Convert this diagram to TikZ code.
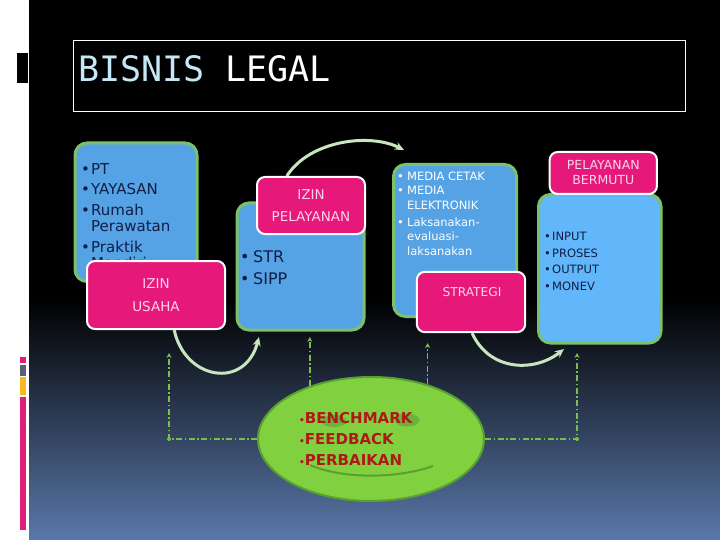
\documentclass[tikz,border=0pt]{standalone}
\usepackage{fontspec}
\setmainfont{DejaVu Sans}
\newfontfamily\monof{DejaVu Sans Mono}
\usetikzlibrary{shapes.geometric,arrows.meta,calc}
\definecolor{boxblue}{RGB}{85,163,228}
\definecolor{boxblueL}{RGB}{98,182,250}
\definecolor{boxgreen}{RGB}{124,192,106}
\definecolor{magentaC}{RGB}{230,24,122}
\definecolor{pinktext}{RGB}{250,212,234}
\definecolor{navy}{RGB}{16,30,70}
\definecolor{arcgreen}{RGB}{200,230,190}
\definecolor{ddgreen}{RGB}{120,190,80}
\definecolor{ellfill}{RGB}{128,208,64}
\definecolor{elldraw}{RGB}{90,160,48}
\definecolor{eyegreen}{RGB}{106,178,58}
\definecolor{redtext}{RGB}{176,24,24}
\definecolor{titleblue}{RGB}{198,232,246}
\definecolor{bgmid}{RGB}{36,48,74}
\definecolor{bgblue}{RGB}{90,120,170}
\definecolor{barpink}{RGB}{222,30,120}
\definecolor{bargray}{RGB}{90,96,112}
\definecolor{baryellow}{RGB}{248,184,32}
\newcommand{\bi}[2][10pt]{\makebox[#1][l]{•}#2}
\newcommand{\bc}[2][10pt]{\hspace*{#1}#2}
\tikzset{
  bluebox/.style={draw=boxgreen, line width=3pt, fill=boxblue, rounded corners=12pt, inner sep=0, anchor=north west},
  pinkb/.style={draw=white, line width=2pt, fill=magentaC, rounded corners=8pt, text=pinktext, align=center, inner sep=0},
  btext/.style={anchor=north west, inner sep=0, align=left},
  arcst/.style={draw=arcgreen, line width=3pt, -{Stealth[length=9pt,width=8pt]}},
  dd/.style={draw=ddgreen, line width=1.6pt, dash pattern=on 6pt off 2.5pt on 1.5pt off 2.5pt, -{Stealth[length=5pt,width=5pt]}}
}
\begin{document}
\begin{tikzpicture}[x=1pt,y=-1pt]
\useasboundingbox (0,0) rectangle (720,540);
% background
\fill[white] (0,0) rectangle (29,540);
\fill[black] (29,0) rectangle (720,300);
\shade[top color=black, middle color=bgmid, bottom color=bgblue] (29,299.5) rectangle (720,540);
\fill[black] (17,53) rectangle (28,83);
\fill[barpink] (20,357) rectangle (26,363);
\fill[bargray] (20,365) rectangle (26,376);
\fill[baryellow] (20,377) rectangle (26,395);
\fill[barpink] (20,397) rectangle (26,530);
% title
\node[draw=white, line width=1pt, minimum width=612pt, minimum height=71pt, anchor=north west, inner sep=0] (tbox) at (72.5,40.5) {};
\node[anchor=base west, inner sep=0, font=\monof\fontsize{35}{35}\selectfont] (title) at (78,82) {\textcolor{titleblue}{BISNIS} \textcolor{white}{LEGAL}};
% box A
\node[bluebox, minimum width=122pt, minimum height=138.5pt] (ba) at (73.5,141.5) {};
\node[btext, text=navy, font=\fontsize{15}{16.5}\selectfont] (ta) at (81,163) {\bi{PT}\\[4pt]\bi{YAYASAN}\\[4pt]\bi{Rumah}\\\bc{Perawatan}\\[4pt]\bi{Praktik}\\\bc{Mandiri}};
\node[pinkb, minimum width=138pt, minimum height=68pt, font=\fontsize{13.5}{22.5}\selectfont] (iu) at (156,295) {IZIN\\USAHA};
% box B
\node[bluebox, minimum width=127pt, minimum height=127pt] (bb) at (235.5,201.5) {};
\node[btext, text=navy, font=\fontsize{16}{22}\selectfont] (tb) at (240,250.7) {\bi[13pt]{STR}\\\bi[13pt]{SIPP}};
\node[pinkb, minimum width=108pt, minimum height=57pt, font=\fontsize{13.5}{22.5}\selectfont] (ip) at (311,205.5) {IZIN\\PELAYANAN};
% box C
\node[bluebox, minimum width=123pt, minimum height=152pt] (bcx) at (392,163) {};
\node[btext, text=white, font=\fontsize{11.5}{14.5}\selectfont] (tc) at (397,171.7) {\bi[10pt]{MEDIA CETAK}\\\bi[10pt]{MEDIA}\\\bc[10pt]{ELEKTRONIK}\\[2.5pt]\bi[10pt]{Laksanakan-}\\\bc[10pt]{evaluasi-}\\\bc[10pt]{laksanakan}};
\node[pinkb, minimum width=108.3pt, minimum height=60.3pt] (st) at (471,302) {};
\node[text=pinktext, inner sep=0, font=\fontsize{12.2}{14}\selectfont] (stt) at (472,291.7) {STRATEGI};
% box D
\node[bluebox, fill=boxblueL, minimum width=122.5pt, minimum height=148.5pt] (bd) at (537,193) {};
\node[btext, text=navy, font=\fontsize{11.5}{16.5}\selectfont] (td) at (544,232) {\bi[8pt]{INPUT}\\\bi[8pt]{PROSES}\\\bi[8pt]{OUTPUT}\\\bi[8pt]{MONEV}};
\node[pinkb, minimum width=107.3pt, minimum height=42pt, font=\fontsize{12.5}{15}\selectfont] (pb) at (603.3,173) {PELAYANAN\\BERMUTU};
% curved arrows
\coordinate (a1) at (404,150);
\coordinate (a2) at (259,337);
\coordinate (a3) at (564,349);
\draw[arcst] ($(ip.north west)!0.28!(ip.north east)$) .. controls (310,140) and (370,133) .. (a1);
\draw[arcst] ($(iu.south west)!0.63!(iu.south east)$) .. controls (185,380) and (245,390) .. (a2);
\draw[arcst] ($(st.south west)!0.51!(st.south east)$) .. controls (490,372) and (535,372) .. (a3);
% ellipse
\node[ellipse, draw=elldraw, line width=2pt, fill=ellfill, minimum width=226pt, minimum height=124pt, inner sep=0] (el) at (371,439) {};
\fill[eyegreen] (334,421) ellipse [x radius=12.5pt, y radius=6pt];
\fill[eyegreen] (407,420) ellipse [x radius=12.5pt, y radius=6.5pt];
\draw[elldraw, line width=2pt] (310,465) .. controls (345,480) and (400,478) .. (433,466);
\node[btext, text=redtext, font=\bfseries\fontsize{15}{21}\selectfont] (te) at (299,412) {{\fontsize{9}{9}\selectfont•}BENCHMARK\\{\fontsize{9}{9}\selectfont•}FEEDBACK\\{\fontsize{9}{9}\selectfont•}PERBAIKAN};
% dash-dot connectors
\coordinate (lt) at (169,353);
\coordinate (rt) at (577,353);
\coordinate (m1) at (0,337);
\coordinate (m2) at (0,343);
\draw[dd] (el.west) -| (lt);
\draw[dd] (el.east) -| (rt);
\draw[dd] (el.139.5) -- (el.139.5 |- m1);
\draw[dd] (el.44.5) -- (el.44.5 |- m2);
\fill[ddgreen] (169,439) circle (2pt);
\fill[ddgreen] (577,439) circle (2pt);
\end{tikzpicture}
\end{document}
